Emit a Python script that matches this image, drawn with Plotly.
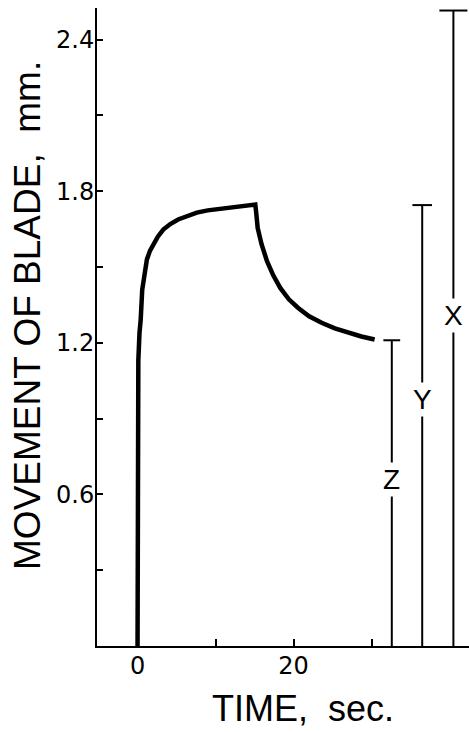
import plotly.graph_objects as go

# Blade movement curve (time in sec, movement in mm)
time_s = [0, 0.05, 0.1, 0.25, 0.4, 0.6, 0.9, 1.2, 1.6, 2.0, 2.6, 3.3, 4.2, 5.2, 6.3, 7.6, 9.0, 10.8, 13.0, 15.1,
          15.2, 15.4, 15.9, 16.6, 17.4, 18.3, 19.4, 20.6, 22.0, 23.6, 25.3, 27.0, 28.7, 30.4]
movement_mm = [0, 0.6, 1.13, 1.24, 1.29, 1.41, 1.48, 1.53, 1.565, 1.59, 1.62, 1.648, 1.67, 1.688, 1.702, 1.715, 1.724, 1.731, 1.74, 1.747,
               1.72, 1.655, 1.59, 1.523, 1.467, 1.417, 1.372, 1.338, 1.305, 1.279, 1.257, 1.239, 1.225, 1.213]

# Reference bars X, Y, Z
bar_names = ["Z", "Y", "X"]
bar_x = [32.6, 36.5, 40.5]
bar_top = [1.21, 1.745, 2.515]
bar_label_y = [0.657, 0.974, 1.31]

# Tick labels
y_tickvals = [0.3, 0.6, 0.9, 1.2, 1.5, 1.8, 2.1, 2.4]
y_ticktext = ["", "0.6", "", "1.2", "", "1.8", "", "2.4"]
x_tickvals = [0, 10, 20, 30]
x_ticktext = ["0", "", "20", ""]

FONT = "Liberation Sans, Arial, Helvetica, sans-serif"
TICKFONT = "DejaVu Sans, Verdana, sans-serif"
cap_sizes = [12, 14, 20]

fig = go.Figure()

fig.add_trace(go.Scatter(x=time_s, y=movement_mm, mode="lines",
                         line=dict(color="black", width=4.5),
                         hoverinfo="skip", showlegend=False))

for i, name in enumerate(bar_names):
    fig.add_trace(go.Scatter(x=[bar_x[i], bar_x[i]], y=[0, bar_top[i]], mode="lines",
                             line=dict(color="black", width=2), showlegend=False, hoverinfo="skip"))
    fig.add_trace(go.Scatter(x=[bar_x[i]], y=[bar_top[i]], mode="markers",
                             marker=dict(symbol="line-ew", size=cap_sizes[i],
                                         line=dict(color="black", width=2)),
                             showlegend=False, hoverinfo="skip"))
    fig.add_annotation(x=bar_x[i], y=bar_label_y[i], text=name, showarrow=False,
                       font=dict(family=FONT, size=28, color="black"),
                       bgcolor="white", borderpad=1, xanchor="center", yanchor="middle")

fig.add_annotation(x=-0.187, y=0.518, xref="paper", yref="paper", text="MOVEMENT OF BLADE,  mm.",
                   textangle=-90, showarrow=False, xanchor="center", yanchor="middle",
                   font=dict(family=FONT, size=37, color="black"))
fig.add_annotation(x=0.553, y=-0.098, xref="paper", yref="paper", text="TIME,  sec.",
                   showarrow=False, xanchor="center", yanchor="middle",
                   font=dict(family=FONT, size=36, color="black"))

fig.update_xaxes(range=[-5.2, 42.5], tickvals=x_tickvals, ticktext=x_ticktext,
                 ticks="inside", ticklen=7, tickwidth=2, tickcolor="black",
                 showline=True, linewidth=2, linecolor="black", showgrid=False, zeroline=False,
                 ticklabelstandoff=-3,
                 tickfont=dict(family=TICKFONT, size=24, color="black"))
fig.update_yaxes(range=[0, 2.525], tickvals=y_tickvals, ticktext=y_ticktext,
                 ticks="inside", ticklen=6, tickwidth=2, tickcolor="black",
                 showline=True, linewidth=2, linecolor="black", showgrid=False, zeroline=False,
                 ticklabelstandoff=-4,
                 tickfont=dict(family=TICKFONT, size=24, color="black"))

fig.update_layout(width=469, height=732, margin=dict(l=97, r=0, t=8, b=86),
                  plot_bgcolor="white", paper_bgcolor="white", showlegend=False)

fig.write_html("out.html", config={"displayModeBar": False},
               post_script="document.body.style.margin='0';document.body.style.overflow='hidden';")
